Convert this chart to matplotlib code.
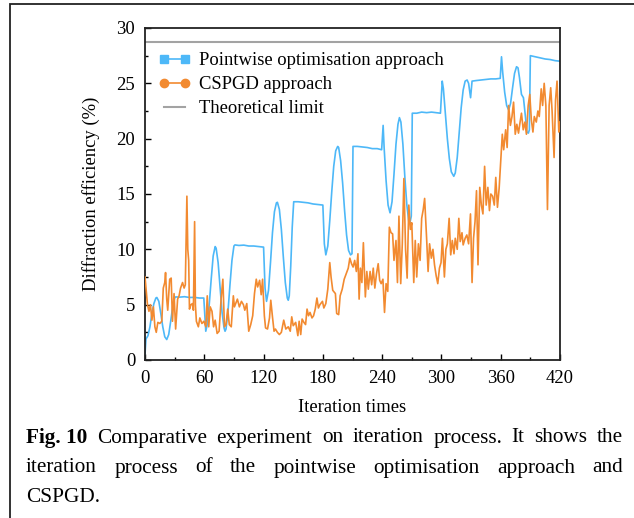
import matplotlib
matplotlib.use('Agg')
import matplotlib.pyplot as plt
from matplotlib.patches import Rectangle
from matplotlib.lines import Line2D
from matplotlib.ticker import MultipleLocator

plt.rcParams['font.family'] = ['Liberation Serif', 'DejaVu Serif']
plt.rcParams['font.size'] = 13.4

# Pointwise optimisation approach
pw_x = [0, 1, 3, 5, 7, 9, 11, 12, 14, 16, 18, 20, 22, 24, 26, 28, 30, 31,
        35, 40, 45, 50, 55, 59.5,
        61.5, 63, 65, 67, 69, 71, 72, 74, 76, 78, 80, 81, 82, 84, 86, 88, 90, 91,
        95, 100, 105, 110, 115, 120,
        121.5, 123, 125, 127, 129, 131, 133, 134, 136, 138, 140, 142, 144, 145,
        146, 147.5, 149, 150.5,
        155, 160, 165, 170, 175, 180,
        181.5, 183, 185, 187, 189, 191, 193, 195, 196, 198, 200, 202, 204, 206,
        208, 209.5, 210.5,
        215, 220, 225, 230, 235, 239.5,
        241, 242, 244, 246, 248, 250, 252, 254, 256, 257.5, 259, 261, 263, 265,
        267, 268, 269.5, 270.5,
        275, 280, 285, 290, 295, 299,
        300.8, 302, 304, 306, 308, 310, 312.5, 314, 316, 318, 320, 322, 324,
        326, 327.5, 329.5, 331,
        335, 340, 345, 350, 355, 359.5,
        360.8, 362, 364, 366, 368, 370, 372, 374, 376, 377.5, 379, 381, 383,
        385, 386.5, 388, 389, 390,
        395, 400, 405, 410, 415, 420]
pw_y = [0.5, 1.9, 2.2, 3.0, 4.2, 5.1, 5.6, 5.65, 5.3, 4.2, 3.0, 2.1, 1.85, 2.3, 3.5, 4.8, 5.6, 5.7,
        5.68, 5.72, 5.65, 5.66, 5.6, 5.6,
        2.6, 3.2, 5.0, 7.3, 9.4, 10.25, 10.1, 8.8, 6.5, 4.3, 2.9, 2.6, 2.8, 4.4, 6.8, 9.0, 10.3, 10.4,
        10.35, 10.38, 10.3, 10.3, 10.25, 10.2,
        6.5, 5.3, 6.3, 8.8, 11.5, 13.4, 14.2, 14.25, 13.6, 11.8, 9.3, 7.0, 5.6, 5.4,
        5.8, 8.5, 12.0, 14.3,
        14.3, 14.25, 14.2, 14.1, 14.05, 14.0,
        10.5, 9.5, 10.3, 12.6, 15.2, 17.5, 18.9, 19.3, 19.2, 18.0, 16.0, 13.5, 11.3, 9.9,
        9.5, 9.6, 19.3,
        19.3, 19.25, 19.2, 19.1, 19.1, 19.0,
        21.2, 19.2, 16.2, 14.0, 13.3, 14.3, 16.8, 19.5, 21.3, 21.9, 21.5, 19.5, 16.5, 14.0,
        12.5, 12.35, 13.0, 22.3,
        22.3, 22.4, 22.35, 22.4, 22.35, 22.3,
        25.2, 24.5, 22.3, 20.0, 18.2, 17.0, 16.6, 16.9, 18.3, 20.5, 22.8, 24.4, 25.2,
        25.3, 25.0, 23.7, 25.2,
        25.25, 25.3, 25.35, 25.4, 25.4, 25.45,
        27.4, 26.0, 24.2, 23.0, 22.6, 23.2, 24.6, 25.9, 26.5, 26.4, 25.5, 24.0, 23.7,
        22.0, 20.6, 20.5, 20.8, 27.5,
        27.4, 27.3, 27.2, 27.15, 27.05, 27.0]

# CSPGD approach
cs_x = [0, 1, 2.5, 4, 5.5, 7, 8.5, 10, 11.4, 13, 15, 17, 18.5, 20, 20.8, 22, 23, 25,
        26.5, 27.8, 29.4, 31, 33, 34.5, 36, 38, 39.6, 40.8, 42.4, 43.3, 44.2, 45,
        46.5, 48, 49, 50.2, 51, 52, 54, 55.5, 57.6, 59.6, 61.6, 63, 64.5, 66, 67.8,
        69.4, 71, 73, 75, 77, 78.8, 80.4, 82, 83.7, 85.3, 87.3, 89.4, 90.5, 93.5,
        95.5, 97.6, 99.6, 101, 103, 105, 107, 109, 110.8, 112.6, 114, 116, 117.6,
        119, 120.8, 122, 124, 126, 127.3, 129, 130.6, 132, 134, 136, 138, 140.4,
        142.5, 145, 147, 148.5, 150, 152.5, 154.7, 156, 157.6, 159, 160.8, 162.5,
        164, 165.5, 167, 169, 170.6, 172.3, 174, 175.5, 177, 179.6, 181, 183, 185,
        187, 188.3, 190, 192.7, 194, 196, 197.5, 199.6, 201.6, 203.7, 205.7, 207.3,
        209, 210.6, 212.2, 213.9, 215.5, 216.7, 218, 219.5, 221, 223, 224.5, 226,
        227.8, 229.4, 231, 232.6, 234.3, 236, 237.5, 239, 240.8, 242.4, 244, 245.7,
        247.3, 249, 250.6, 252, 254, 255.5, 257, 258.8, 260.4, 262, 263.7, 265.3,
        267, 268.6, 270, 272, 273.5, 275, 276.7, 278.4, 280, 281.6, 283, 285,
        286.5, 288, 289.8, 291.4, 293, 294.7, 296.3, 298, 299.6, 301, 303, 304.5,
        306, 307.8, 309.4, 311, 312.7, 314, 316, 317.6, 319, 320.8, 322, 324,
        325.7, 327.5, 329.4, 331, 332.5, 334, 335.5, 337, 338.8, 340.4, 342,
        343.7, 345.3, 347, 348.6, 350, 351.8, 353.5, 355, 356.7, 358.4, 360,
        361.6, 363, 365, 366.5, 368, 369.8, 371.4, 373, 374.7, 376.3, 378, 379.6,
        381, 382.8, 384.5, 386, 387.8, 389.4, 391, 392.6, 394, 396, 397.6, 399,
        401, 402.4, 404, 405.7, 407.3, 409, 410.6, 412, 414, 415.5, 417, 418.8, 420]
cs_y = [7.5, 6.5, 5.0, 4.4, 5.0, 3.6, 4.8, 3.0, 2.5, 3.4, 3.3, 3.5, 6.5, 7.0, 7.9, 5.5, 4.5, 7.3,
        7.4, 3.5, 6.0, 2.8, 5.5, 5.8, 6.5, 7.0, 6.5, 6.8, 14.8, 10.0, 9.0, 4.6,
        5.0, 5.1, 4.5, 12.5, 5.0, 3.5, 3.0, 3.8, 3.3, 3.5, 3.0, 5.8, 3.0, 4.8, 4.4,
        3.0, 3.6, 2.4, 2.6, 5.5, 7.3, 3.0, 3.2, 4.6, 3.2, 3.0, 5.8, 4.8, 5.5,
        4.8, 5.3, 5.0, 4.5, 5.1, 2.6, 3.2, 4.0, 6.0, 7.3, 6.6, 7.2, 5.9,
        7.3, 4.0, 2.9, 2.8, 3.8, 5.4, 3.9, 2.6, 2.8, 2.5, 2.3, 2.5, 3.6,
        2.8, 3.0, 2.6, 3.9, 3.1, 3.4, 2.2, 3.5, 2.3, 3.7, 3.4, 3.2,
        4.6, 4.0, 4.3, 3.8, 4.0, 4.6, 5.6, 4.7, 5.0, 5.3, 4.7, 5.1, 6.4,
        8.8, 7.5, 6.3, 6.0, 4.2, 4.1, 5.8, 6.4, 7.3, 7.8, 8.3, 9.2,
        8.7, 8.4, 9.0, 8.0, 9.6, 5.5, 8.3, 7.0, 10.6, 5.7, 8.0, 6.4,
        8.0, 6.8, 8.3, 6.5, 7.8, 8.7, 7.2, 6.9, 7.3, 4.3, 6.9, 6.2,
        12.0, 11.5, 11.4, 9.0, 10.8, 7.0, 13.0, 6.9, 10.5, 16.4, 10.0, 7.4,
        14.0, 11.8, 12.4, 7.0, 10.8, 7.5, 10.5, 9.0, 12.8, 13.6, 14.6, 11.0,
        8.0, 10.5, 9.2, 10.0, 8.6, 7.6, 6.9, 8.3, 8.8, 11.0, 7.5, 10.0,
        10.5, 12.8, 9.5, 10.8, 9.6, 11.0, 10.0, 12.8, 10.7, 11.5, 10.4, 11.0,
        11.3, 10.5, 13.2, 7.0, 11.0, 12.5, 15.3, 8.6, 15.6, 14.0, 13.2,
        17.5, 14.0, 15.6, 13.5, 15.0, 14.8, 14.0, 16.5, 13.8, 15.5, 17.9,
        20.4, 19.0, 20.8, 19.2, 23.0, 21.2, 22.0, 23.3, 20.4, 21.3, 20.5, 21.5,
        22.3, 20.8, 21.5, 20.4, 23.0, 24.0, 21.7, 20.6, 22.0, 21.5, 22.5, 22.0,
        24.5, 23.0, 25.0, 23.0, 13.6, 23.0, 24.6, 22.5, 18.3, 23.5, 25.2, 20.6, 21.5]

limit = 28.75

W, H = 634, 518
fig = plt.figure(figsize=(W / 100, H / 100), dpi=100)
ax = fig.add_axes([145 / W, 1 - 360 / H, 415 / W, 332 / H])

ax.axhline(limit, color='#a3a3a3', lw=1.5, zorder=1)
ax.plot(pw_x, pw_y, color='#4db8f8', lw=1.2, zorder=2)
ax.plot(cs_x, cs_y, color='#f28a30', lw=1.2, zorder=3)

ax.set_xlim(0, 420)
ax.set_ylim(0, 30)
ax.xaxis.set_major_locator(MultipleLocator(60))
ax.xaxis.set_minor_locator(MultipleLocator(30))
ax.yaxis.set_major_locator(MultipleLocator(5))
ax.yaxis.set_minor_locator(MultipleLocator(2.5))
ax.tick_params(which='both', direction='in', top=False, right=False, width=1)
ax.tick_params(which='major', length=4, pad=7)
ax.tick_params(which='minor', length=2.5)
for s in ax.spines.values():
    s.set_linewidth(1.3)
    s.set_color('#222222')
ax.set_xlabel('Iteration times', labelpad=9)
ax.set_ylabel('Diffraction efficiency (%)', labelpad=12)

hb = Line2D([], [], color='#4db8f8', lw=1.2, marker='s', markersize=5.5)
ho = Line2D([], [], color='#f28a30', lw=1.2, marker='o', markersize=6)
hg = Line2D([], [], color='#a3a3a3', lw=1.5)
ax.legend([hb, ho, hg], ['Pointwise optimisation approach', 'CSPGD approach',
                         'Theoretical limit'],
          loc='upper left', bbox_to_anchor=((158 - 145) / 415, (360 - 52) / 332),
          frameon=False, borderpad=0, borderaxespad=0, handlelength=1.75,
          handletextpad=0.45, labelspacing=0.38, numpoints=2)

# frame around the figure panel
fig.patches.append(Rectangle((10 / W, -0.1), 1.2, 1.1 - 4 / H, transform=fig.transFigure,
                             fill=False, lw=1.3, edgecolor='#222222'))

# justified caption
fig.canvas.draw()
r = fig.canvas.get_renderer()
x0, x1 = 26, 623
lines = [
    (438, ['Fig. 10', 'Comparative', 'experiment', 'on', 'iteration', 'process.', 'It',
           'shows', 'the'], True),
    (468, ['iteration', 'process', 'of', 'the', 'pointwise', 'optimisation', 'approach',
           'and'], True),
    (497, ['CSPGD.'], False),
]
for yc, words, just in lines:
    ts = []
    for w in words:
        t = fig.text(0, 1 - yc / H, w, fontsize=15.3, va='center', ha='left',
                     fontweight='bold' if w.startswith('Fig') else 'normal')
        ts.append(t)
    widths = [t.get_window_extent(r).width for t in ts]
    gap = (x1 - x0 - sum(widths)) / (len(ts) - 1) if just else 0
    x = x0
    for t, wd in zip(ts, widths):
        t.set_x(x / W)
        x += wd + gap

fig.savefig('out.png', dpi=100)
